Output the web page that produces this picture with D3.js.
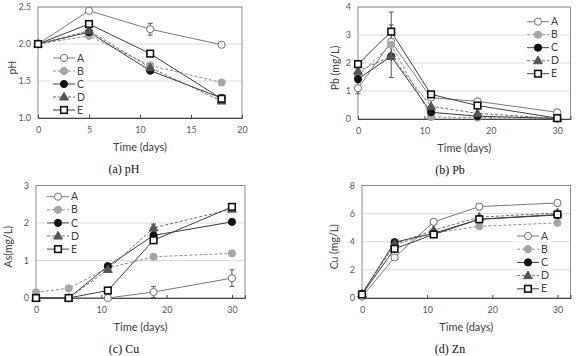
<!DOCTYPE html>
<html>
<head>
<meta charset="utf-8">
<script src="https://cdn.jsdelivr.net/npm/d3@7"></script>
<style>
  body { margin: 0; background: #fff; }
  svg { display: block; }
</style>
</head>
<body>
<div id="chart"></div>
<script>
// Data
var seriesNames = ["A", "B", "C", "D", "E"];

var phDays = [0, 5, 11, 18];
var phValues = [
    [2.0, 2.45, 2.20, 1.99],
    [2.0, 2.11, 1.71, 1.48],
    [2.0, 2.16, 1.64, 1.27],
    [2.0, 2.18, 1.68, 1.23],
    [2.0, 2.27, 1.87, 1.26]
];
var phErrors = [
    [0, 0.02, 0.08, 0.02],
    [0, 0, 0, 0],
    [0, 0, 0, 0],
    [0, 0, 0, 0],
    [0, 0, 0, 0]
];

var metalDays = [0, 5, 11, 18, 30];

var pbValues = [
    [1.10, 2.76, 0.76, 0.63, 0.24],
    [1.55, 2.65, 0.07, 0.05, 0.02],
    [1.43, 2.24, 0.24, 0.10, 0.02],
    [1.71, 2.24, 0.45, 0.20, 0.02],
    [1.96, 3.12, 0.88, 0.48, 0.03]
];
var pbErrors = [
    [0.2, 0.6, 0, 0, 0],
    [0, 1.17, 0, 0, 0],
    [0, 0, 0, 0, 0],
    [0, 0, 0, 0, 0],
    [0, 0, 0, 0, 0]
];

var asValues = [
    [0, 0, 0, 0.16, 0.53],
    [0.15, 0.26, 0.80, 1.10, 1.19],
    [0, 0, 0.85, 1.67, 2.03],
    [0, 0, 0.76, 1.87, 2.37],
    [0, 0, 0.20, 1.54, 2.43]
];
var asErrors = [
    [0, 0, 0, 0.15, 0.22],
    [0, 0, 0, 0, 0],
    [0, 0, 0, 0, 0],
    [0, 0, 0, 0.1, 0],
    [0, 0, 0, 0, 0.05]
];

var cuValues = [
    [0.10, 2.89, 5.41, 6.50, 6.76],
    [0.30, 3.80, 4.60, 5.10, 5.34],
    [0.30, 3.97, 4.60, 5.60, 5.90],
    [0.30, 3.85, 4.82, 5.75, 6.05],
    [0.25, 3.50, 4.52, 5.60, 5.94]
];
var cuErrors = [
    [0, 0.15, 0.2, 0.22, 0.2],
    [0, 0, 0, 0, 0],
    [0, 0, 0, 0, 0],
    [0, 0, 0, 0, 0],
    [0, 0, 0, 0.15, 0.15]
];

// Styles per series
var styles = [
    { shape: "circle", fill: "#fff", stroke: "#6e6e6e", line: "#7a7a7a", dash: null, sw: 1 },
    { shape: "circle", fill: "#a6a6a6", stroke: "#a6a6a6", line: "#8c8c8c", dash: "3,2", sw: 1 },
    { shape: "circle", fill: "#111", stroke: "#111", line: "#3a3a3a", dash: null, sw: 1 },
    { shape: "triangle", fill: "#555", stroke: "#555", line: "#6a6a6a", dash: "3,2", sw: 1 },
    { shape: "square", fill: "#fff", stroke: "#111", line: "#404040", dash: null, sw: 1.6 }
];

var svgWidth = 577;
var svgHeight = 356;

var svg = d3.select("#chart")
    .append("svg")
    .attr("width", svgWidth)
    .attr("height", svgHeight);

var tickFont = "Lato, 'Open Sans', sans-serif";

function drawMarker(g, st, x, y) {
    if (st.shape === "circle") {
        g.append("circle")
            .attr("cx", x).attr("cy", y).attr("r", 3.6)
            .attr("fill", st.fill).attr("stroke", st.stroke).attr("stroke-width", 1);
    } else if (st.shape === "triangle") {
        g.append("path")
            .attr("d", d3.symbol().type(d3.symbolTriangle).size(34)())
            .attr("transform", `translate(${x},${y + 0.5})`)
            .attr("fill", st.fill).attr("stroke", st.stroke);
    } else {
        g.append("rect")
            .attr("x", x - 3.3).attr("y", y - 3.3)
            .attr("width", 6.6).attr("height", 6.6)
            .attr("fill", st.fill).attr("stroke", st.stroke).attr("stroke-width", st.sw);
    }
}

function drawPanel(p) {
    var x = d3.scaleLinear().domain(p.xDomain).range([p.left, p.right]);
    var y = d3.scaleLinear().domain(p.yDomain).range([p.bottom, p.top]);
    var g = svg.append("g");

    // gridlines
    g.selectAll(".grid")
        .data(p.yTicks.slice(1))
        .enter()
        .append("line")
        .attr("x1", p.left).attr("x2", p.right)
        .attr("y1", d => y(d)).attr("y2", d => y(d))
        .attr("stroke", "#d9d9d9").attr("stroke-width", 1);

    // frame
    g.append("rect")
        .attr("x", p.left).attr("y", p.top)
        .attr("width", p.right - p.left).attr("height", p.bottom - p.top)
        .attr("fill", "none").attr("stroke", "#8c8c8c").attr("stroke-width", 1);

    // x axis (ticks inside)
    var bottomAxis = d3.axisBottom(x).tickValues(p.xTicks).tickSize(-3).tickPadding(9);
    var xa = g.append("g")
        .attr("transform", `translate(0, ${p.bottom})`)
        .call(bottomAxis);
    xa.select(".domain").attr("stroke", "#444");
    xa.selectAll(".tick line").attr("stroke", "#444");
    xa.selectAll("text")
        .attr("fill", "#595959")
        .style("font-family", tickFont)
        .style("font-size", "9px");

    // y axis labels
    var leftAxis = d3.axisLeft(y).tickValues(p.yTicks).tickSize(0).tickPadding(7)
        .tickFormat(d3.format(p.yFormat));
    var ya = g.append("g")
        .attr("transform", `translate(${p.left}, 0)`)
        .call(leftAxis);
    ya.select(".domain").remove();
    ya.selectAll("text")
        .attr("fill", "#595959")
        .style("font-family", tickFont)
        .style("font-size", "9px");

    // series lines
    var line = d3.line().x(d => x(d[0])).y(d => y(d[1]));
    p.values.forEach(function(vals, i) {
        var pts = p.days.map((d, j) => [d, vals[j]]);
        g.append("path")
            .datum(pts)
            .attr("d", line)
            .attr("fill", "none")
            .attr("stroke", styles[i].line)
            .attr("stroke-width", 1)
            .attr("stroke-dasharray", styles[i].dash);
    });

    // error bars
    p.values.forEach(function(vals, i) {
        p.days.forEach(function(d, j) {
            var e = p.errors[i][j];
            if (!e) return;
            var cx = x(d);
            g.append("line")
                .attr("x1", cx).attr("x2", cx)
                .attr("y1", y(vals[j] - e)).attr("y2", y(vals[j] + e))
                .attr("stroke", "#555").attr("stroke-width", 1);
            [vals[j] - e, vals[j] + e].forEach(function(v) {
                g.append("line")
                    .attr("x1", cx - 2.5).attr("x2", cx + 2.5)
                    .attr("y1", y(v)).attr("y2", y(v))
                    .attr("stroke", "#555").attr("stroke-width", 1);
            });
        });
    });

    // markers
    p.values.forEach(function(vals, i) {
        p.days.forEach(function(d, j) {
            drawMarker(g, styles[i], x(d), y(vals[j]));
        });
    });

    // legend
    seriesNames.forEach(function(name, i) {
        var ly = p.legY + i * p.legStep;
        var st = styles[i];
        g.append("rect")
            .attr("x", p.legX - 2).attr("y", ly - 6)
            .attr("width", 36).attr("height", 12)
            .attr("fill", "#fff");
        g.append("line")
            .attr("x1", p.legX).attr("x2", p.legX + 22)
            .attr("y1", ly).attr("y2", ly)
            .attr("stroke", st.line).attr("stroke-width", 1)
            .attr("stroke-dasharray", st.dash);
        drawMarker(g, st, p.legX + 11, ly);
        g.append("text")
            .attr("x", p.legX + 24).attr("y", ly)
            .attr("dy", "0.35em")
            .attr("fill", "#404040")
            .style("font-family", tickFont)
            .style("font-size", "10.5px")
            .text(name);
    });

    // x axis title
    svg.append("text")
        .attr("x", (p.left + p.right) / 2)
        .attr("y", p.bottom + 29)
        .attr("dy", "0.35em")
        .attr("fill", "#404040")
        .style("text-anchor", "middle")
        .style("font-family", tickFont)
        .style("font-size", "11px")
        .text("Time (days)");

    // y axis title
    svg.append("text")
        .attr("transform", `translate(${p.yTitleX}, ${(p.top + p.bottom) / 2 + 5}) rotate(-90)`)
        .attr("dy", "0.35em")
        .attr("fill", "#404040")
        .style("text-anchor", "middle")
        .style("font-family", tickFont)
        .style("font-size", "10.5px")
        .text(p.yTitle);

    // caption
    svg.append("text")
        .attr("x", p.capX)
        .attr("y", p.bottom + 51)
        .attr("dy", "0.35em")
        .attr("fill", "#111")
        .style("text-anchor", "middle")
        .style("font-family", "'Liberation Serif', 'DejaVu Serif', serif")
        .style("font-size", "12px")
        .text(p.caption);
}

drawPanel({
    left: 38, right: 242, top: 7, bottom: 118,
    xDomain: [0, 20], xTicks: [0, 5, 10, 15, 20],
    yDomain: [1, 2.5], yTicks: [1, 1.5, 2, 2.5], yFormat: ".1f",
    days: phDays, values: phValues, errors: phErrors,
    legX: 53, legY: 58, legStep: 13,
    yTitle: "pH", yTitleX: 12, caption: "(a) pH", capX: 124
});

drawPanel({
    left: 358, right: 570.5, top: 7, bottom: 119,
    xDomain: [0, 32], xTicks: [0, 10, 20, 30],
    yDomain: [0, 4], yTicks: [0, 1, 2, 3, 4], yFormat: "d",
    days: metalDays, values: pbValues, errors: pbErrors,
    legX: 527, legY: 21.7, legStep: 13,
    yTitle: "Pb (mg/L)", yTitleX: 335, caption: "(b) Pb", capX: 450
});

drawPanel({
    left: 36, right: 245, top: 185.5, bottom: 298,
    xDomain: [0, 32], xTicks: [0, 10, 20, 30],
    yDomain: [0, 3], yTicks: [0, 1, 2, 3], yFormat: "d",
    days: metalDays, values: asValues, errors: asErrors,
    legX: 47, legY: 196.7, legStep: 13.1,
    yTitle: "As(mg/L)", yTitleX: 8, caption: "(c) Cu", capX: 124
});

drawPanel({
    left: 362, right: 570.5, top: 185.5, bottom: 298,
    xDomain: [0, 32], xTicks: [0, 10, 20, 30],
    yDomain: [0, 8], yTicks: [0, 2, 4, 6, 8], yFormat: "d",
    days: metalDays, values: cuValues, errors: cuErrors,
    legX: 517, legY: 236, legStep: 13.2,
    yTitle: "Cu (mg/L)", yTitleX: 334, caption: "(d) Zn", capX: 450
});
</script>
</body>
</html>
